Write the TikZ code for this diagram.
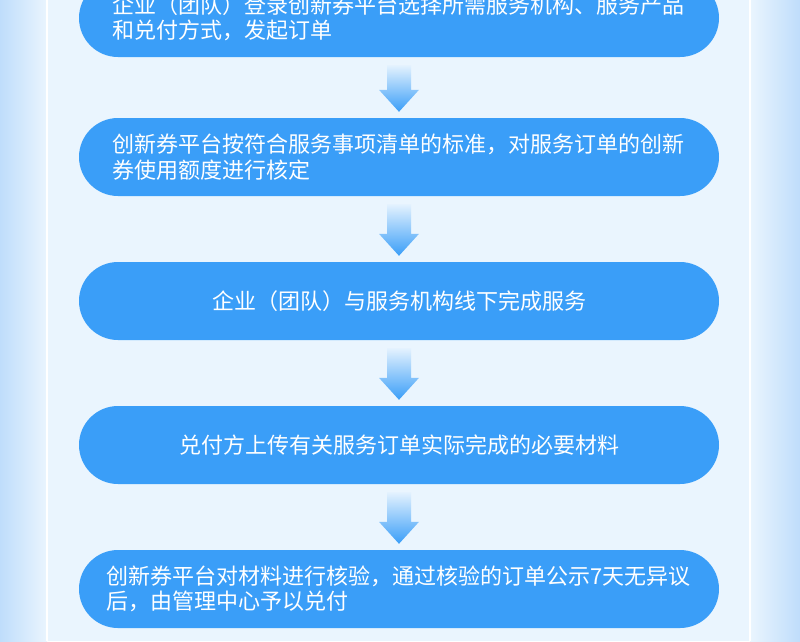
\documentclass[tikz,border=0pt]{standalone}
\usepackage{fontspec}
\usetikzlibrary{calc}
\newfontfamily\cjk{Noto Sans CJK SC}
\definecolor{pillc}{HTML}{3A9EF8}
\definecolor{bgedge}{HTML}{BFDDFB}
\definecolor{panel}{HTML}{EAF5FE}
\definecolor{arrtop}{HTML}{E4F2FE}
\definecolor{arrbot}{HTML}{3A9EF8}
\begin{document}
\begin{tikzpicture}[x=1pt,y=-1pt,
  pill/.style={rounded corners=39pt,fill=pillc,minimum width=640pt,minimum height=78pt,inner sep=0pt,
    font=\cjk\fontsize{22}{25.5}\selectfont,text=white,align=left,text width=574pt},
  pillc/.style={pill,align=center}]
\useasboundingbox (0,0) rectangle (800,641);
\shade[left color=bgedge,right color=panel] (0,0) rectangle (47,641);
\shade[right color=bgedge,left color=panel] (750,0) rectangle (800,641);
\fill[panel] (47,0) rectangle (750,641);
\draw[white,line width=1.5pt] (47,0) -- (47,641) (750,0) -- (750,641);
\node[pill] (p1) at (399,18) {企业（团队）登录创新券平台选择所需服务机构、服务产品\\和兑付方式，发起订单};
\node[pill] (p2) at (399,157) {创新券平台按符合服务事项清单的标准，对服务订单的创新\\券使用额度进行核定};
\node[pillc] (p3) at (399,301) {企业（团队）与服务机构线下完成服务};
\node[pillc] (p4) at (399,445) {兑付方上传有关服务订单实际完成的必要材料};
\node[pill,text width=586pt] (p5) at (399,589) {创新券平台对材料进行核验，通过核验的订单公示7天无异议\\后，由管理中心予以兑付};
\foreach \a/\b in {p1/p2,p2/p3,p3/p4,p4/p5}{
  \path (\a.south) ++(0,8) coordinate (s) (\b.north) ++(0,-6) coordinate (e);
  \shade[top color=arrtop,bottom color=arrbot]
    ($(s)+(-12,0)$) -- ($(s)+(12,0)$) -- ($(e)+(12,-22)$) -- ($(e)+(20,-22)$) -- (e) -- ($(e)+(-20,-22)$) -- ($(e)+(-12,-22)$) -- cycle;
}
\end{tikzpicture}
\end{document}
